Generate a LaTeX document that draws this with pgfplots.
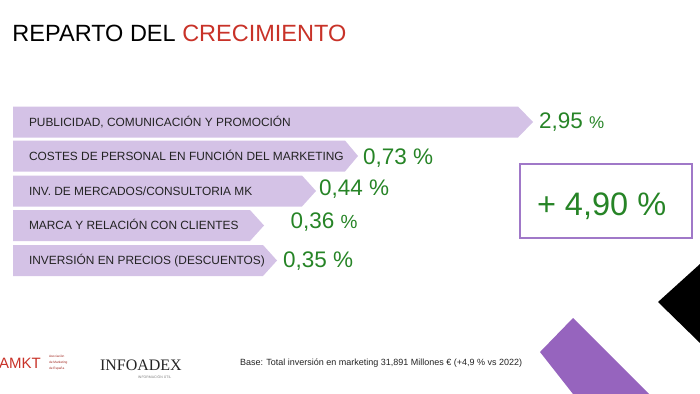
\documentclass[border=0pt]{standalone}
\usepackage{fontspec}
\setmainfont{Liberation Sans}
\newfontfamily\serifft{Liberation Serif}
\usepackage{pgfplots}
\pgfplotsset{compat=1.18}
\definecolor{barc}{RGB}{212,194,230}
\definecolor{valc}{RGB}{38,132,38}
\definecolor{titred}{RGB}{200,50,40}
\definecolor{boxc}{RGB}{160,120,200}
\definecolor{shapec}{RGB}{150,100,190}
\definecolor{labc}{RGB}{35,35,35}
\begin{document}
\begin{tikzpicture}
\begin{axis}[
  at={(0,0)}, anchor=south west,
  scale only axis, width=700pt, height=393pt,
  xmin=0, xmax=700, ymin=0, ymax=393, y dir=reverse,
  hide axis, clip=true,
]
% arrow-shaped bars: left edge, rectangle end, tip
\addplot[fill=barc, draw=none] coordinates {(13,106.5) (518,106.5) (533,122) (518,137.5) (13,137.5)} -- cycle;
\addplot[fill=barc, draw=none] coordinates {(13,140.5) (345,140.5) (358,156) (345,171.5) (13,171.5)} -- cycle;
\addplot[fill=barc, draw=none] coordinates {(13,175.5) (302,175.5) (316,191) (302,206.5) (13,206.5)} -- cycle;
\addplot[fill=barc, draw=none] coordinates {(13,210) (250,210) (264,225.5) (250,241) (13,241)} -- cycle;
\addplot[fill=barc, draw=none] coordinates {(13,245) (263,245) (277,260.5) (263,276) (13,276)} -- cycle;
% decorative shapes
\addplot[fill=shapec, draw=none] coordinates {(573,318) (649,394) (573,394) (540,352)} -- cycle;
\addplot[fill=black, draw=none] coordinates {(700,264) (658,302) (700,343)} -- cycle;
% box
\addplot[draw=boxc, line width=1.6pt, fill=none] coordinates {(520,164) (692,164) (692,238) (520,238)} -- cycle;

\begin{scope}[every node/.style={inner sep=0pt, outer sep=0pt}]
\node[anchor=base west] at (axis cs:12.5,41.7) {\fontsize{23.5}{24}\selectfont REPARTO DEL \textcolor{titred}{CRECIMIENTO}};

\node[anchor=base west, text=labc] at (axis cs:29,126.2) {\fontsize{11.9}{12}\selectfont PUBLICIDAD, COMUNICACIÓN Y PROMOCIÓN};
\node[anchor=base west, text=labc] at (axis cs:29,160.2) {\fontsize{11.9}{12}\selectfont COSTES DE PERSONAL EN FUNCIÓN DEL MARKETING};
\node[anchor=base west, text=labc] at (axis cs:29,195.2) {\fontsize{11.9}{12}\selectfont INV. DE MERCADOS/CONSULTORIA MK};
\node[anchor=base west, text=labc] at (axis cs:29,229.7) {\fontsize{11.9}{12}\selectfont MARCA Y RELACIÓN CON CLIENTES};
\node[anchor=base west, text=labc] at (axis cs:29,264.7) {\fontsize{11.9}{12}\selectfont INVERSIÓN EN PRECIOS (DESCUENTOS)};

\node[anchor=base west, text=valc] at (axis cs:539,128.5) {\fontsize{22.5}{23}\selectfont 2,95 {\fontsize{17}{17}\selectfont\%}};
\node[anchor=base west, text=valc] at (axis cs:363,164) {\fontsize{22.5}{23}\selectfont 0,73 \%};
\node[anchor=base west, text=valc] at (axis cs:319,195) {\fontsize{22.5}{23}\selectfont 0,44 \%};
\node[anchor=base west, text=valc] at (axis cs:290.5,228) {\fontsize{22.5}{23}\selectfont 0,36 {\fontsize{19}{19}\selectfont\%}};
\node[anchor=base west, text=valc] at (axis cs:283,267) {\fontsize{22.5}{23}\selectfont 0,35 \%};

\node[anchor=base west, text=valc] at (axis cs:537,215) {\fontsize{32.5}{33}\selectfont + 4,90 \%};

\node[anchor=base west, text=labc] at (axis cs:240,365) {\fontsize{9}{9}\selectfont Base: Total inversión en marketing 31,891 Millones € (+4,9 \% vs 2022)};

\node[anchor=base west, text=titred] at (axis cs:-1,368) {\fontsize{15}{15}\selectfont AMKT};
\node[anchor=base west, text=titred!80!black, font=\fontsize{3.2}{3.2}\selectfont] at (axis cs:49,357) {Asociación};
\node[anchor=base west, text=titred!80!black, font=\fontsize{3.2}{3.2}\selectfont] at (axis cs:49,363) {de Marketing};
\node[anchor=base west, text=titred!80!black, font=\fontsize{3.2}{3.2}\selectfont] at (axis cs:49,369) {de España};
\node[anchor=base west, text=black!85] at (axis cs:100,370) {\serifft\fontsize{16}{16}\selectfont INFOADEX};
\node[anchor=base west, text=black!50] at (axis cs:138,378.5) {\fontsize{3.5}{4}\selectfont INFORMACIÓN ÚTIL};
\end{scope}
\end{axis}
\pgfresetboundingbox
\path[use as bounding box] (0,0) rectangle (700pt,393pt);
\end{tikzpicture}
\end{document}
